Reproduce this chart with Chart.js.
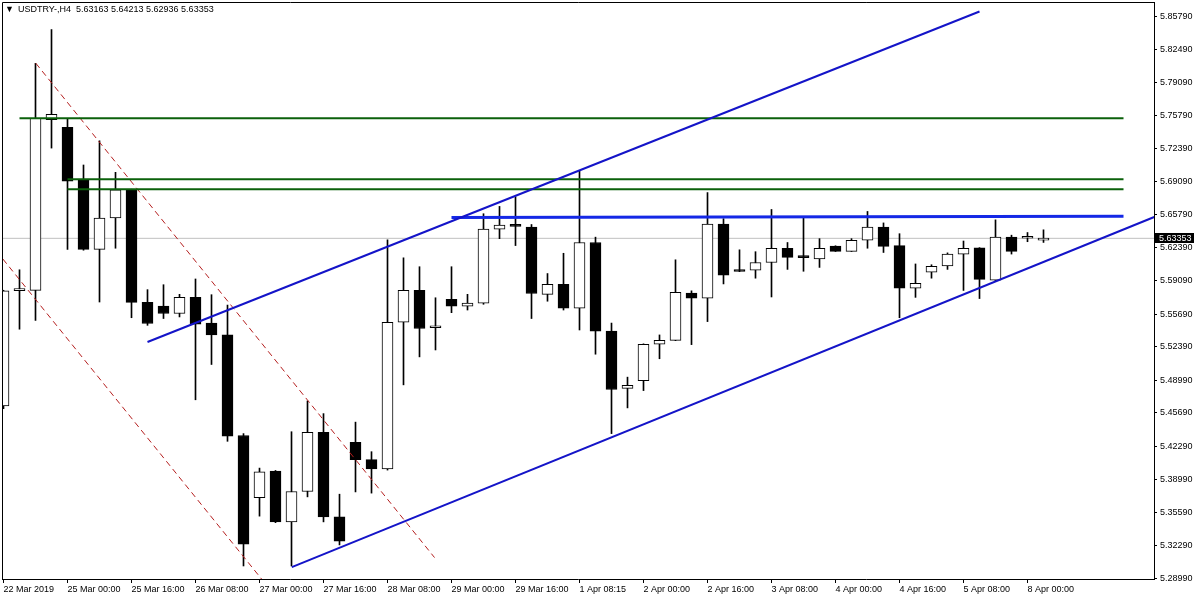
<!DOCTYPE html>
<html>
<head>
<meta charset="utf-8">
<script src="https://cdn.jsdelivr.net/npm/chart.js@4.4.1/dist/chart.umd.min.js"></script>
<style>
  html, body { margin: 0; padding: 0; background: #fff; }
  canvas { display: block; }
</style>
</head>
<body>
<canvas id="chartUsdTry" width="1200" height="600"></canvas>
<script>
// Velas H4 USDTRY (indice 0 = 22 Mar 2019)
const opens = [5.4639, 5.5806, 5.5808, 5.7535, 5.7457, 5.6933, 5.6223, 5.6541, 5.6825, 5.5687,
  5.5649, 5.5575, 5.5738, 5.5478, 5.5358, 5.4341, 5.3712, 5.3980, 5.3467, 5.3774,
  5.4372, 5.3518, 5.4271, 5.4096, 5.4003, 5.5486, 5.5808, 5.5431, 5.5718, 5.5649,
  5.5680, 5.6429, 5.6475, 5.6448, 5.5769, 5.5870, 5.5629, 5.6293, 5.5396, 5.4818,
  5.4896, 5.5264, 5.5303, 5.5781, 5.5730, 5.6479, 5.6002, 5.6013, 5.6091, 5.6235,
  5.6142, 5.6126, 5.6258, 5.6204, 5.6316, 5.6448, 5.6262, 5.5831, 5.5994, 5.6056,
  5.6176, 5.6239, 5.5913, 5.6347, 5.6336, 5.63163];
const highs = [5.5810, 5.6017, 5.8106, 5.8447, 5.7543, 5.7077, 5.7322, 5.7003, 5.6832, 5.5816,
  5.5866, 5.5769, 5.5924, 5.5765, 5.5660, 5.4360, 5.4011, 5.3987, 5.4379, 5.4690,
  5.4562, 5.3747, 5.4476, 5.4177, 5.6320, 5.6138, 5.6048, 5.5734, 5.6048, 5.5769,
  5.6584, 5.6658, 5.6755, 5.6475, 5.5979, 5.6184, 5.7019, 5.6347, 5.5478, 5.4931,
  5.5268, 5.5358, 5.6118, 5.5804, 5.6798, 5.6534, 5.6219, 5.6200, 5.6627, 5.6293,
  5.6553, 5.6332, 5.6260, 5.6332, 5.6607, 5.6491, 5.6382, 5.6076, 5.6068, 5.6188,
  5.6308, 5.6241, 5.6522, 5.6367, 5.6394, 5.64213];
const lows = [5.4612, 5.5416, 5.5505, 5.7248, 5.6223, 5.6215, 5.5691, 5.6235, 5.5532, 5.5455,
  5.5524, 5.5540, 5.4702, 5.5059, 5.4282, 5.3021, 5.3525, 5.3459, 5.3021, 5.3720,
  5.3467, 5.3234, 5.3770, 5.3758, 5.3991, 5.4853, 5.5136, 5.5206, 5.5583, 5.5610,
  5.5668, 5.6332, 5.6262, 5.5524, 5.5699, 5.5610, 5.5408, 5.5163, 5.4360, 5.4620,
  5.4795, 5.5117, 5.5300, 5.5260, 5.5493, 5.5874, 5.5998, 5.5932, 5.5742, 5.6021,
  5.6002, 5.6041, 5.6202, 5.6202, 5.6235, 5.6192, 5.5532, 5.5738, 5.5932, 5.6021,
  5.5808, 5.5726, 5.5905, 5.6176, 5.6301, 5.62936];
const closes = [5.5804, 5.5810, 5.7550, 5.7589, 5.6914, 5.6223, 5.6541, 5.6825, 5.5687, 5.5474,
  5.5575, 5.5738, 5.5466, 5.5358, 5.4333, 5.3242, 5.3972, 5.3467, 5.3774, 5.4372,
  5.3518, 5.3273, 5.4096, 5.4003, 5.5486, 5.5808, 5.5423, 5.5433, 5.5649, 5.5680,
  5.6429, 5.6468, 5.6456, 5.5777, 5.5870, 5.5629, 5.6293, 5.5396, 5.4806, 5.4849,
  5.5264, 5.5303, 5.5788, 5.5730, 5.6479, 5.5963, 5.6000, 5.6091, 5.6235, 5.6142,
  5.6140, 5.6235, 5.6204, 5.6316, 5.6448, 5.6254, 5.5831, 5.5881, 5.6052, 5.6176,
  5.6235, 5.5920, 5.6347, 5.6204, 5.6337, 5.63353];

// Eje temporal: una etiqueta cada 4 velas
const tickIdx = [0, 4, 8, 12, 16, 20, 24, 28, 32, 36, 40, 44, 48, 52, 56, 60, 64];
const tickText = ['22 Mar 2019', '25 Mar 00:00', '25 Mar 16:00', '26 Mar 08:00', '27 Mar 00:00',
  '27 Mar 16:00', '28 Mar 08:00', '29 Mar 00:00', '29 Mar 16:00', '1 Apr 08:15', '2 Apr 00:00',
  '2 Apr 16:00', '3 Apr 08:00', '4 Apr 00:00', '4 Apr 16:00', '5 Apr 08:00', '8 Apr 00:00'];

// Escala de precios
const yTicks = [5.85790, 5.82490, 5.79090, 5.75790, 5.72390, 5.69090, 5.65790, 5.62390, 5.59090,
  5.55690, 5.52390, 5.48990, 5.45690, 5.42290, 5.38990, 5.35590, 5.32290, 5.28990];
const yMin = 5.28892, yMax = 5.87257;

// Lineas dibujadas (indice de vela, precio)
const canalSup = [[9.0, 5.5287], [61.0, 5.8630]];
const canalInf = [[18.02, 5.3010], [71.92, 5.6551]];
const resistencia = [[28.0, 5.6546], [70.0, 5.6558]];
const verde1 = [[1.0, 5.7550], [70.0, 5.7550]];
const verde2 = [[4.0, 5.6933], [70.0, 5.6933]];
const verde3 = [[4.0, 5.6832], [70.0, 5.6832]];
const rojo1 = [[2.02, 5.8106], [26.94, 5.3106]];
const rojo2 = [[-0.04, 5.6126], [16.15, 5.2885]];

const tituloTxt = '\u25BC USDTRY-,H4  5.63163 5.64213 5.62936 5.63353';
const lastClose = closes[closes.length - 1];
const xMin = -0.09375, xMax = 71.90625;

const fontFam = "'Liberation Sans', 'DejaVu Sans', sans-serif";

const toPts = arr => arr.map(p => ({ x: p[0], y: p[1] }));
const linea = (pts, color, width, dash, order) => ({
  type: 'line', data: toPts(pts), borderColor: color, borderWidth: width,
  borderDash: dash || [], pointRadius: 0, tension: 0, order: order, fill: false
});

const plugMarco = {
  id: 'marco',
  afterDatasetsDraw(chart) {
    const a = chart.chartArea, ctx = chart.ctx;
    ctx.save();
    ctx.strokeStyle = '#000';
    ctx.lineWidth = 1;
    ctx.beginPath();
    ctx.moveTo(a.left + 0.5, a.bottom);
    ctx.lineTo(a.left + 0.5, a.top + 0.5);
    ctx.lineTo(a.right, a.top + 0.5);
    ctx.stroke();
    ctx.restore();
  },
  afterDraw(chart) {
    const ctx = chart.ctx, a = chart.chartArea;
    ctx.save();
    ctx.fillStyle = '#000';
    ctx.font = "9px " + fontFam;
    ctx.textBaseline = 'middle';
    ctx.fillText('\u25BC', 5, 10);
    ctx.fillText(tituloTxt.slice(2), 18, 10);
    // etiqueta del precio actual
    const y = Math.round(chart.scales.y.getPixelForValue(lastClose));
    ctx.fillRect(a.right + 1, y - 5, 39, 10);
    ctx.fillStyle = '#fff';
    ctx.fillText(lastClose.toFixed(5), a.right + 5, y + 0.5);
    ctx.restore();
  }
};

new Chart(document.getElementById('chartUsdTry').getContext('2d'), {
  type: 'bar',
  data: {
    datasets: [
      linea(canalSup, '#1414c8', 2, null, 1),
      linea(canalInf, '#1414c8', 2, null, 1),
      linea(resistencia, '#1428e6', 3, null, 1),
      linea(verde1, '#0b610b', 2, null, 2),
      linea(verde2, '#0b610b', 2, null, 2),
      linea(verde3, '#0b610b', 2, null, 2),
      linea(rojo1, '#b41e1e', 1, [6, 4], 3),
      linea(rojo2, '#b41e1e', 1, [6, 4], 3),
      {
        type: 'bar',
        data: closes.map((c, i) => ({ x: i, y: [opens[i], c] })),
        backgroundColor: closes.map((c, i) => c >= opens[i] ? '#ffffff' : '#000000'),
        borderColor: '#000', borderWidth: 1, borderSkipped: false,
        barThickness: 11, minBarLength: 2, grouped: false, order: 4
      },
      {
        type: 'bar',
        data: closes.map((c, i) => ({ x: i, y: [lows[i], highs[i]] })),
        backgroundColor: '#000', borderWidth: 0,
        barThickness: 1, grouped: false, order: 5
      },
      linea([[xMin, lastClose], [xMax, lastClose]], '#c0c0c0', 1, null, 9)
    ]
  },
  options: {
    responsive: false,
    animation: false,
    events: [],
    layout: { padding: { left: 2, top: 2, right: 0, bottom: 0 } },
    plugins: { legend: { display: false }, tooltip: { enabled: false }, title: { display: false } },
    scales: {
      x: {
        type: 'linear', min: xMin, max: xMax, offset: false,
        grid: { display: true, drawOnChartArea: false, tickLength: 4, color: '#000', offset: false },
        border: { display: true, color: '#000' },
        afterBuildTicks: s => { s.ticks = tickIdx.map(v => ({ value: v })); },
        afterFit: s => { s.height = 21; s.paddingLeft = 0; s.paddingRight = 0; },
        ticks: {
          autoSkip: false, maxRotation: 0, minRotation: 0, align: 'start', padding: 1,
          color: '#000', font: { family: fontFam, size: 9 },
          callback: v => tickText[tickIdx.indexOf(v)]
        }
      },
      y: {
        position: 'right', min: yMin, max: yMax,
        grid: { display: true, drawOnChartArea: false, tickLength: 3, color: '#000' },
        border: { display: true, color: '#000' },
        afterBuildTicks: s => { s.ticks = yTicks.map(v => ({ value: v })); },
        afterFit: s => { s.width = 46; s.paddingTop = 0; s.paddingBottom = 0; },
        ticks: {
          padding: 3, color: '#000', font: { family: fontFam, size: 9 },
          callback: v => v.toFixed(5)
        }
      }
    }
  },
  plugins: [plugMarco]
});
</script>
</body>
</html>
